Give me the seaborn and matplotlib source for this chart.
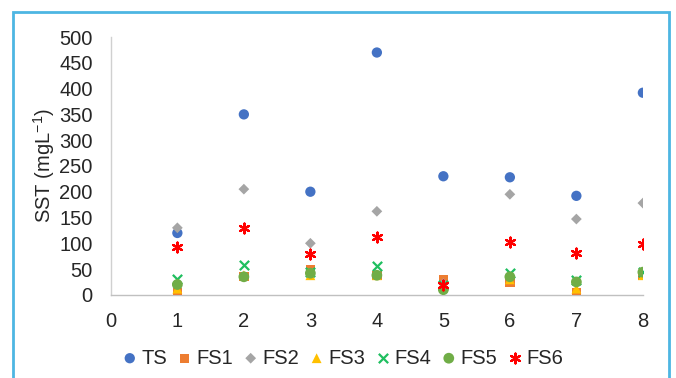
import matplotlib
matplotlib.use("Agg")
import matplotlib.pyplot as plt
import seaborn as sns
import pandas as pd
from matplotlib.patches import Rectangle

# Sampling points
x_vals = [1, 2, 3, 4, 5, 6, 7, 8]

# SST values per series (mg/L)
ts = [120, 350, 200, 470, 230, 228, 192, 392]
fs1 = [5, 35, 48, 38, 30, 25, 5, 38]
fs2 = [130, 205, 100, 162, 22, 195, 147, 178]
fs3 = [12, 38, 38, 38, 18, 30, 12, 38]
fs4 = [30, 57, 45, 55, 20, 42, 28, 45]
fs5 = [20, 35, 42, 38, 10, 35, 25, 44]
fs6 = [92, 130, 80, 112, 20, 102, 82, 98]

series_names = ["TS", "FS1", "FS2", "FS3", "FS4", "FS5", "FS6"]
series_vals = [ts, fs1, fs2, fs3, fs4, fs5, fs6]
colors = ["#4472C4", "#ED7D31", "#A5A5A5", "#FFC000", "#1FBF5F", "#70AD47", "#FF0000"]
markers = ["o", "s", "D", "^", "x", "o", (6, 2, 0)]
sizes = [55, 45, 30, 50, 45, 60, 50]

rows = []
for name, vals in zip(series_names, series_vals):
    for x, v in zip(x_vals, vals):
        rows.append({"x": x, "SST": v, "serie": name})
df = pd.DataFrame(rows)

sns.set_style("white")
plt.rcParams["font.family"] = ["Liberation Sans", "DejaVu Sans"]
plt.rcParams["mathtext.fontset"] = "custom"
plt.rcParams["mathtext.rm"] = "Liberation Sans"

fig = plt.figure(figsize=(6.76, 3.78), dpi=100)
ax = fig.add_axes([0.164, 0.22, 0.787, 0.682])

for name, col, mk, sz in zip(series_names, colors, markers, sizes):
    sub = df[df["serie"] == name]
    lw = 1.6 if mk in ("x", (6, 2, 0)) else 0
    sns.scatterplot(data=sub, x="x", y="SST", color=col, marker=mk, s=sz,
                    linewidth=lw, edgecolor=col if lw else "none", ax=ax,
                    label=name, zorder=3)

ax.set_xlim(0, 8)
ax.set_ylim(0, 500)
ax.set_xticks(range(0, 9))
ax.set_yticks(range(0, 501, 50))
ax.tick_params(axis="x", labelsize=14.5, length=0, pad=12)
ax.tick_params(axis="y", labelsize=14.5, length=0, pad=13)
ax.set_xlabel("")
ax.set_ylabel("SST (mgL$\\mathregular{^{-1}}$)", fontsize=14.5, labelpad=2)

for side in ["top", "right"]:
    ax.spines[side].set_visible(False)
ax.spines["left"].set_color("#D0D0D0")
ax.spines["bottom"].set_color("#C0C0C0")
ax.spines["left"].set_linewidth(1)
ax.spines["bottom"].set_linewidth(1)

ax.legend(loc="center", bbox_to_anchor=(0.432, -0.245), ncol=7,
          frameon=False, fontsize=14.5, handletextpad=0.0, columnspacing=0.25,
          handlelength=1.2, borderpad=0)

# outer frame
fig.patches.append(Rectangle((13 / 676, -0.05), (669 - 13) / 676, 1.05 - 12 / 378,
                             transform=fig.transFigure, fill=False,
                             edgecolor="#4DB6E2", linewidth=2))

fig.savefig("out.png", dpi=100)
